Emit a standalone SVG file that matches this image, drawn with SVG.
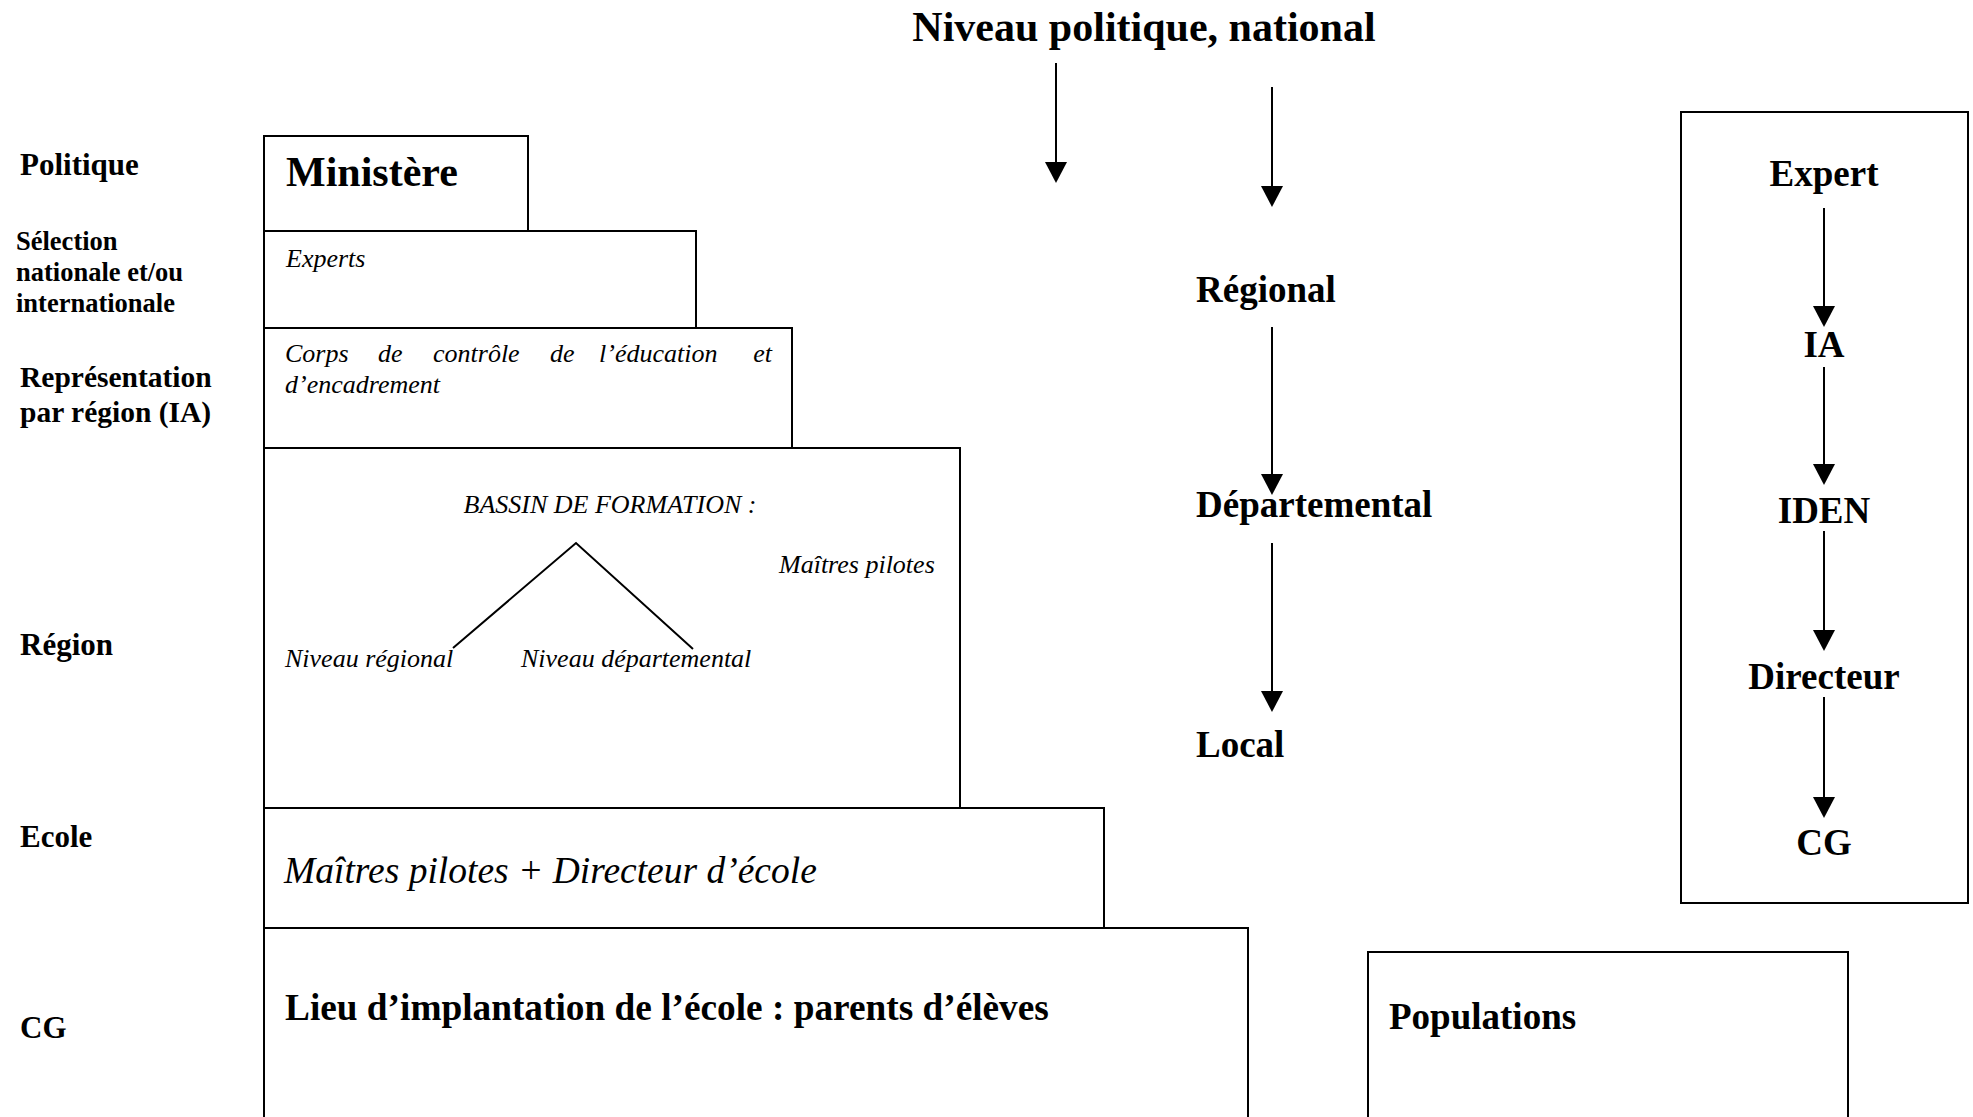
<svg xmlns="http://www.w3.org/2000/svg" width="1973" height="1117" viewBox="0 0 1973 1117">
<style>
text{font-family:"Liberation Serif","Times New Roman",serif;fill:#000}
.b{font-weight:bold}
.i{font-style:italic}
.box{fill:#fff;stroke:#000;stroke-width:2}
.ln{stroke:#000;stroke-width:2;fill:none}
.arr{stroke:#000;stroke-width:2;fill:none;marker-end:url(#ah)}
</style>
<defs>
<marker id="ah" markerUnits="userSpaceOnUse" markerWidth="22" markerHeight="22" refX="0" refY="11" orient="auto">
<path d="M0,0 L21,11 L0,22 z" fill="#000"/>
</marker>
</defs>
<rect width="1973" height="1117" fill="#fff"/>

<g id="title"><text class="b" x="1144" y="41" font-size="42" text-anchor="middle">Niveau politique, national</text></g>

<g id="labels">
<text class="b" x="20" y="175" font-size="31">Politique</text>
<text class="b" x="16" y="250" font-size="26.5">Sélection</text>
<text class="b" x="16" y="281" font-size="26.5">nationale et/ou</text>
<text class="b" x="16" y="312" font-size="26.5">internationale</text>
<text class="b" x="20" y="387" font-size="29.5">Représentation</text>
<text class="b" x="20" y="422" font-size="29.5">par région (IA)</text>
<text class="b" x="20" y="655" font-size="31">Région</text>
<text class="b" x="20" y="847" font-size="31">Ecole</text>
<text class="b" x="20" y="1038" font-size="31">CG</text>
</g>

<g id="lieu"><rect class="box" x="264" y="928" width="984" height="200"/>
<text class="b" x="285" y="1020" font-size="37.3">Lieu d’implantation de l’école : parents d’élèves</text></g>
<g id="ecole"><rect class="box" x="264" y="808" width="840" height="120"/>
<text class="i" x="284" y="883" font-size="37.5">Maîtres pilotes + Directeur d’école</text></g>
<g id="bassin"><rect class="box" x="264" y="448" width="696" height="360"/>
<text class="i" x="610" y="513" font-size="26" text-anchor="middle">BASSIN DE FORMATION :</text>
<polyline class="ln" points="453,648 576,543 693,649"/>
<text class="i" x="285" y="667" font-size="26">Niveau régional</text>
<text class="i" x="521" y="667" font-size="26">Niveau départemental</text>
<text class="i" x="779" y="573" font-size="26">Maîtres pilotes</text></g>
<g id="corps"><rect class="box" x="264" y="328" width="528" height="120"/>
<text class="i" font-size="26" y="362"><tspan x="285">Corps</tspan><tspan x="378">de</tspan><tspan x="433">contrôle</tspan><tspan x="550">de</tspan><tspan x="599">l’éducation</tspan></text>
<text class="i" font-size="26" x="772" y="362" text-anchor="end">et</text>
<text class="i" font-size="26" x="285" y="393">d’encadrement</text></g>
<g id="experts"><rect class="box" x="264" y="231" width="432" height="97"/>
<text class="i" x="286" y="267" font-size="26">Experts</text></g>
<g id="ministere"><rect class="box" x="264" y="136" width="264" height="95"/>
<text class="b" x="286" y="186" font-size="42">Ministère</text></g>

<g id="regional"><text class="b" x="1196" y="302" font-size="37">Régional</text></g>
<g id="departemental"><text class="b" x="1196" y="517" font-size="37">Départemental</text></g>
<g id="local"><text class="b" x="1196" y="757" font-size="37">Local</text></g>

<g id="chaine"><rect class="box" x="1681" y="112" width="287" height="791"/>
<text class="b" x="1824" y="186" font-size="37" text-anchor="middle">Expert</text>
<text class="b" x="1824" y="357" font-size="37" text-anchor="middle">IA</text>
<text class="b" x="1824" y="523" font-size="37" text-anchor="middle">IDEN</text>
<text class="b" x="1824" y="689" font-size="37" text-anchor="middle">Directeur</text>
<text class="b" x="1824" y="855" font-size="37" text-anchor="middle">CG</text></g>

<g id="populations"><rect class="box" x="1368" y="952" width="480" height="200"/>
<text class="b" x="1389" y="1029" font-size="37">Populations</text></g>

<g id="connectors">
<line class="arr" x1="1056" y1="63" x2="1056" y2="162"/>
<line class="arr" x1="1272" y1="87" x2="1272" y2="186"/>
<line class="arr" x1="1272" y1="327" x2="1272" y2="474"/>
<line class="arr" x1="1272" y1="543" x2="1272" y2="691"/>
<line class="arr" x1="1824" y1="208" x2="1824" y2="306"/>
<line class="arr" x1="1824" y1="367" x2="1824" y2="464"/>
<line class="arr" x1="1824" y1="531" x2="1824" y2="630"/>
<line class="arr" x1="1824" y1="697" x2="1824" y2="797"/>
</g>
</svg>
